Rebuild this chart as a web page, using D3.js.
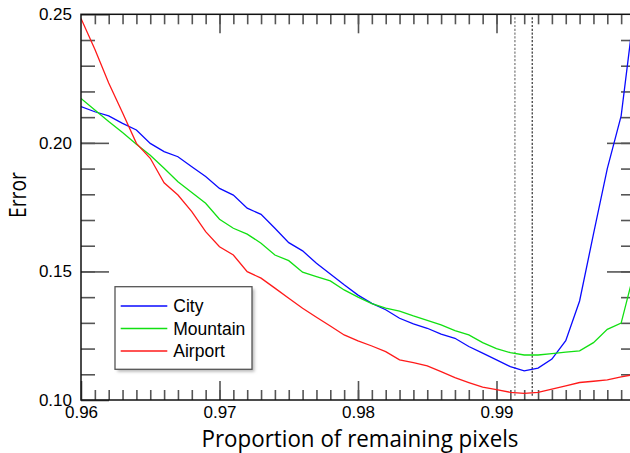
<!DOCTYPE html>
<head>
  <meta http-equiv="Content-Type" content="text/html; charset=utf-8">
  <style>
    body { margin: 0; background: #fff; }
    text { font-family: "Liberation Sans", Arial, sans-serif; }
  </style>
</head>
<body></body>
<script src="https://d3js.org/d3.v7.min.js"></script>
<script>

var width = 630,
    height = 453;

// Inputs
var proportion = d3.range(0, 41).map(function(i){ return +(0.96 + i*0.001).toFixed(3); });

var city = [0.2141, 0.2121, 0.2105, 0.2076, 0.2050, 0.1998, 0.1966, 0.1946, 0.1907, 0.1869,
            0.1823, 0.1797, 0.1746, 0.1722, 0.1668, 0.1612, 0.1580, 0.1532, 0.1490, 0.1448,
            0.1408, 0.1376, 0.1351, 0.1318, 0.1296, 0.1279, 0.1256, 0.1240, 0.1208, 0.1182,
            0.1156, 0.1130, 0.1113, 0.1124, 0.1159, 0.1231, 0.1385, 0.1645, 0.1900, 0.2105,
            0.2540];
var mountain = [0.2173, 0.2128, 0.2083, 0.2040, 0.1995, 0.1952, 0.1901, 0.1849, 0.1807, 0.1765,
            0.1703, 0.1668, 0.1645, 0.1610, 0.1564, 0.1542, 0.1497, 0.1480, 0.1463, 0.1428,
            0.1400, 0.1375, 0.1357, 0.1346, 0.1327, 0.1310, 0.1292, 0.1270, 0.1253, 0.1223,
            0.1200, 0.1184, 0.1175, 0.1175, 0.1180, 0.1186, 0.1191, 0.1223, 0.1275, 0.1299,
            0.1510];
var airport = [0.2484, 0.2364, 0.2233, 0.2117, 0.1998, 0.1940, 0.1845, 0.1797, 0.1733, 0.1655,
            0.1596, 0.1564, 0.1499, 0.1474, 0.1435, 0.1396, 0.1357, 0.1322, 0.1288, 0.1253,
            0.1230, 0.1210, 0.1188, 0.1156, 0.1145, 0.1133, 0.1110, 0.1087, 0.1068, 0.1050,
            0.1040, 0.1030, 0.1026, 0.1030, 0.1042, 0.1055, 0.1068, 0.1073, 0.1078, 0.1090,
            0.1100];

var seriesNames = ["City", "Mountain", "Airport"];
var seriesColors = ["#0a0aff", "#12e012", "#ff1a1a"];
var seriesValues = [city, mountain, airport];

var markerX = [0.99133, 0.99258];

var xMajor = [0.96, 0.97, 0.98, 0.99];
var xMinor = d3.range(1, 40).map(function(i){ return +(0.96 + i*0.001).toFixed(3); });
var yMajor = [0.10, 0.15, 0.20, 0.25];
var yMinor = d3.range(11, 25).map(function(i){ return +(i*0.01).toFixed(2); });

var xs = d3.scaleLinear()
    .domain([0.96, 1.0])
    .range([81, 635]);
var ys = d3.scaleLinear()
    .domain([0.10, 0.25])
    .range([400, 14.3]);

var svg = d3.select("body").append("svg")
    .attr("width", width)
    .attr("height", height);

var defs = svg.append("defs");
defs.append("clipPath").attr("id", "plotclip")
    .append("rect")
    .attr("x", xs(0.96)).attr("y", ys(0.25))
    .attr("width", xs(1.0) - xs(0.96)).attr("height", ys(0.10) - ys(0.25));
var blur = defs.append("filter").attr("id", "shadow")
    .attr("x", "-10%").attr("y", "-10%").attr("width", "130%").attr("height", "130%");
blur.append("feGaussianBlur").attr("stdDeviation", 1.5);

// ticks on all four sides, pointing in
function styleAxis(g){
  g.select(".domain").remove();
  g.selectAll(".tick line").attr("stroke", "#555").attr("stroke-width", 1.6);
  g.selectAll(".tick text")
    .attr("fill", "#000")
    .style("font-family", '"Liberation Sans", Arial, sans-serif')
    .style("font-size", "17px");
}

svg.append("g").attr("transform", "translate(0," + ys(0.10) + ")")
    .call(d3.axisBottom(xs).tickValues(xMinor).tickSize(-10).tickSizeOuter(0).tickFormat(""))
    .call(styleAxis);
svg.append("g").attr("transform", "translate(0," + ys(0.10) + ")")
    .call(d3.axisBottom(xs).tickValues(xMajor).tickSize(-19).tickSizeOuter(0).tickPadding(6).tickFormat(d3.format(".2f")))
    .call(styleAxis);
svg.append("g").attr("transform", "translate(0," + ys(0.25) + ")")
    .call(d3.axisTop(xs).tickValues(xMinor).tickSize(-10).tickSizeOuter(0).tickFormat(""))
    .call(styleAxis);
svg.append("g").attr("transform", "translate(0," + ys(0.25) + ")")
    .call(d3.axisTop(xs).tickValues(xMajor.slice(1)).tickSize(-19).tickSizeOuter(0).tickFormat(""))
    .call(styleAxis);

svg.append("g").attr("transform", "translate(" + xs(0.96) + ",0)")
    .call(d3.axisLeft(ys).tickValues(yMinor).tickSize(-14).tickSizeOuter(0).tickFormat(""))
    .call(styleAxis);
svg.append("g").attr("transform", "translate(" + xs(0.96) + ",0)")
    .call(d3.axisLeft(ys).tickValues(yMajor).tickSize(-28).tickSizeOuter(0).tickPadding(9).tickFormat(d3.format(".2f")))
    .call(styleAxis);
svg.append("g").attr("transform", "translate(" + xs(1.0) + ",0)")
    .call(d3.axisRight(ys).tickValues(yMinor).tickSize(-14).tickSizeOuter(0).tickFormat(""))
    .call(styleAxis);
svg.append("g").attr("transform", "translate(" + xs(1.0) + ",0)")
    .call(d3.axisRight(ys).tickValues(yMajor.slice(1, 3)).tickSize(-28).tickSizeOuter(0).tickFormat(""))
    .call(styleAxis);

// dashed markers
svg.selectAll(".marker")
    .data(markerX)
    .enter()
    .append("line")
    .attr("class", "marker")
    .attr("x1", function(d){ return xs(d); })
    .attr("x2", function(d){ return xs(d); })
    .attr("y1", ys(0.25) + 3)
    .attr("y2", ys(0.10) - 4)
    .attr("stroke", function(d, i){ return i == 0 ? "#777" : "#333"; })
    .attr("stroke-width", 1.2)
    .attr("stroke-dasharray", "2.2,1.6");

// curves
var line = d3.line()
    .x(function(d, i){ return xs(proportion[i]); })
    .y(function(d){ return ys(d); });

svg.append("g").attr("clip-path", "url(#plotclip)")
    .selectAll(".curve")
    .data(seriesValues)
    .enter()
    .append("path")
    .attr("class", "curve")
    .attr("d", line)
    .attr("fill", "none")
    .attr("stroke", function(d, i){ return seriesColors[i]; })
    .attr("stroke-width", 1.3);

// frame
svg.append("rect")
    .attr("x", xs(0.96)).attr("y", ys(0.25))
    .attr("width", xs(1.0) - xs(0.96)).attr("height", ys(0.10) - ys(0.25))
    .attr("fill", "none")
    .attr("stroke", "#111")
    .attr("stroke-width", 1.5);

// legend
var legend = svg.append("g").attr("transform", "translate(115,286.7)");
legend.append("rect")
    .attr("x", 2.5).attr("y", 2.5).attr("width", 137).attr("height", 82.6)
    .attr("fill", "#bbb")
    .attr("filter", "url(#shadow)");
legend.append("rect")
    .attr("x", 0).attr("y", 0).attr("width", 137).attr("height", 82.6)
    .attr("fill", "#fff")
    .attr("stroke", "#555")
    .attr("stroke-width", 1.3);
var rows = legend.selectAll(".row")
    .data(seriesNames)
    .enter()
    .append("g")
    .attr("class", "row")
    .attr("transform", function(d, i){ return "translate(0," + (19.3 + i*22.5) + ")"; });
rows.append("line")
    .attr("x1", 5.7).attr("x2", 52.3)
    .attr("stroke", function(d, i){ return seriesColors[i]; })
    .attr("stroke-width", 1.3);
rows.append("text")
    .attr("x", 58.3)
    .attr("y", 6)
    .style("font-size", "17.5px")
    .attr("fill", "#000")
    .text(function(d){ return d; });

// axis titles
svg.append("text")
    .attr("x", 360)
    .attr("y", 447)
    .attr("text-anchor", "middle")
    .style("font-family", '"Open Sans", sans-serif')
    .style("font-size", "24px")
    .attr("textLength", 317)
    .attr("lengthAdjust", "spacingAndGlyphs")
    .text("Proportion of remaining pixels");

svg.append("text")
    .attr("transform", "translate(25.5,195) rotate(-90)")
    .attr("text-anchor", "middle")
    .style("font-family", '"Open Sans", sans-serif')
    .style("font-size", "23px")
    .attr("textLength", 46)
    .attr("lengthAdjust", "spacingAndGlyphs")
    .text("Error");

</script>
</html>
